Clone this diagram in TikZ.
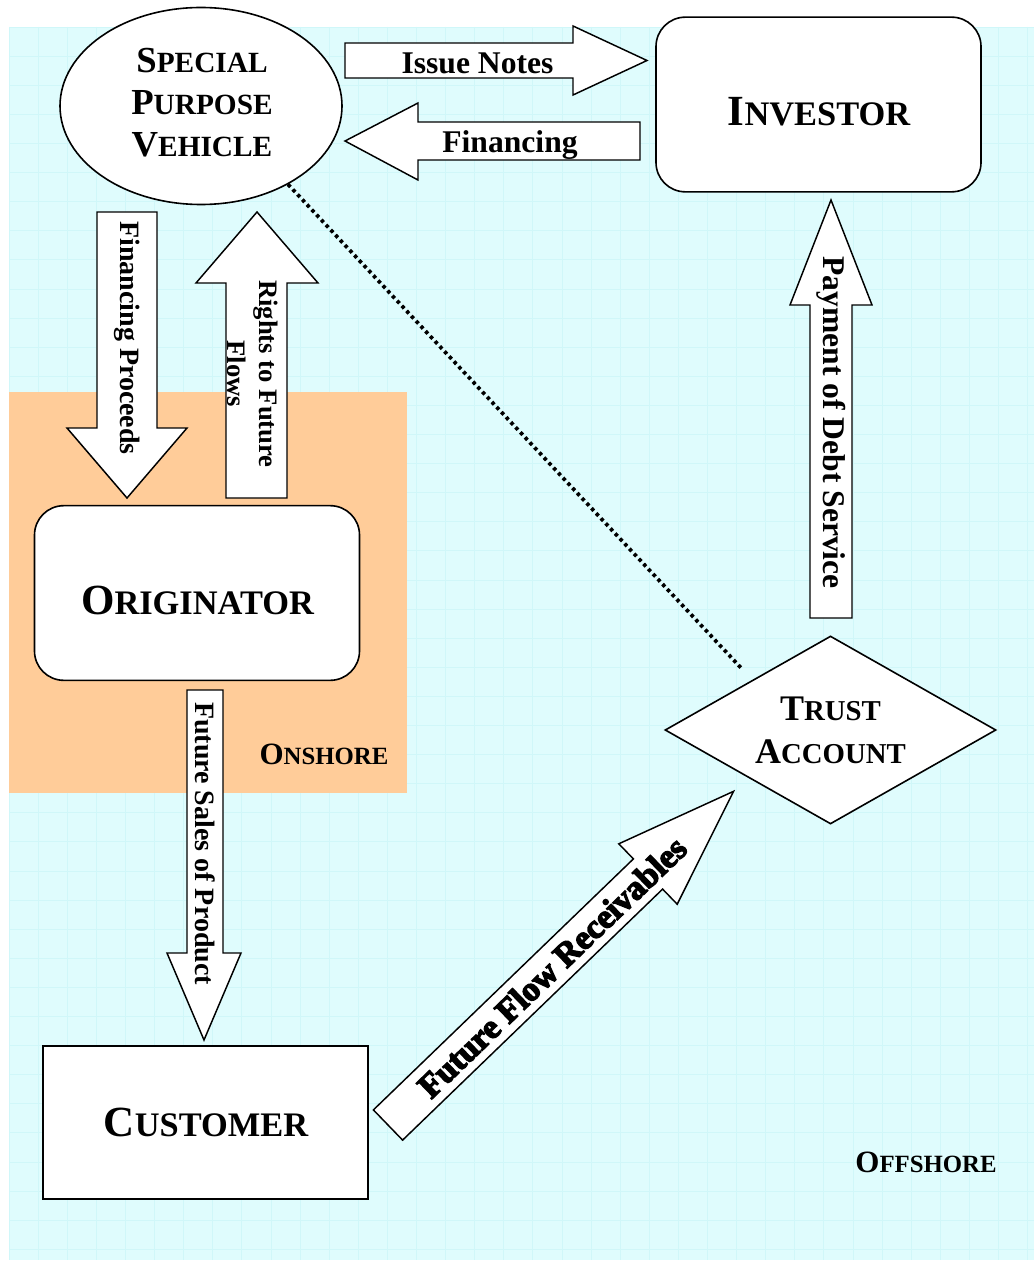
\documentclass[tikz,border=0pt]{standalone}
\usepackage{fontspec}
\usepackage{graphicx}
\setmainfont{Liberation Serif}
\newfontfamily\heavyfont[FakeBold=4]{Liberation Serif}
\usetikzlibrary{shapes.geometric}
\definecolor{bgcyan}{RGB}{223,252,253}
\definecolor{gridcyan}{RGB}{208,247,249}
\definecolor{onshorefill}{RGB}{255,204,153}
\newcommand\smc[1]{\scalebox{0.8}{#1}}
\begin{document}
\begin{tikzpicture}[x=0.75pt,y=-0.75pt,
  shapebox/.style={draw=black, line width=1.2pt, fill=white, inner sep=0pt},
  roundbox/.style={shapebox, rounded corners=22pt, minimum width=243.75pt, minimum height=131pt},
  blockarrow/.style={draw=black, line width=1.1pt, fill=white, line join=miter},
  gridline/.style={draw=gridcyan, line width=0.5pt},
  dotline/.style={line width=2.8pt, dash pattern=on 2.6pt off 2.6pt},
  bigtxt/.style={font=\fontsize{32.25pt}{38pt}\selectfont\bfseries, inner sep=0pt},
  midtxt/.style={font=\fontsize{27.5pt}{31.5pt}\selectfont\bfseries, inner sep=0pt, align=center},
  zonetxt/.style={font=\fontsize{23.25pt}{28pt}\selectfont\bfseries, inner sep=0pt},
  hlbl/.style={font=\fontsize{23.7pt}{28pt}\selectfont\bfseries, inner sep=0pt},
  vlbl/.style={font=\fontsize{21pt}{24pt}\selectfont\bfseries, inner sep=0pt, rotate=-90},
]
\useasboundingbox (0,0) rectangle (1034,1262);
% backgrounds
\fill[white] (0,0) rectangle (1034,1262);
\fill[bgcyan] (9,27) rectangle (1034,1260);
\foreach \i in {0,...,35} \draw[gridline] ({9+29.1*\i},27) -- ({9+29.1*\i},1260);
\foreach \j in {0,...,42} \draw[gridline] (9,{27+29.1*\j}) -- (1034,{27+29.1*\j});
\fill[onshorefill] (9,392) rectangle (407,793);

% main nodes
\node[shapebox, ellipse, minimum width=211.5pt, minimum height=147.75pt] (spv) at (201,106) {};
\node[midtxt] (spvlabel) at (202,103) {S\smc{PECIAL}\\P\smc{URPOSE}\\V\smc{EHICLE}};
\node[roundbox] (investor) at (818.5,104.5) {};
\node[bigtxt] (investorlabel) at (819,112) {I\smc{NVESTOR}};
\node[roundbox] (originator) at (197,593) {};
\node[bigtxt] (originatorlabel) at (197.5,600) {O\smc{RIGINATOR}};
\node[shapebox, minimum width=243.75pt, minimum height=114.75pt] (customer) at (205.5,1122.5) {};
\node[bigtxt] (customerlabel) at (206,1122.5) {C\smc{USTOMER}};
\node[shapebox, diamond, shape aspect=1.76, minimum width=248.25pt, minimum height=141pt, font=\fontsize{27pt}{32.25pt}\selectfont\bfseries, align=center] (trust) at (830.5,730) {T\smc{RUST}\\A\smc{CCOUNT}};

% zone labels
\node[zonetxt] (onshore) at (324,754) {O\smc{NSHORE}};
\node[zonetxt] (offshore) at (926,1162) {O\smc{FFSHORE}};

% dotted link
\coordinate (dotend) at (743,670);
\draw[dotline] (spv.-42) -- (dotend);

% block arrows
\draw[blockarrow] (345,43) -- (573,43) -- (573,26) -- (647,60.5) -- (573,95) -- (573,78) -- (345,78) -- cycle;
\node[hlbl, anchor=base] (issuelbl) at (477.5,74) {Issue Notes};

\draw[blockarrow] (640,122) -- (418,122) -- (418,103) -- (345,141) -- (418,180) -- (418,160) -- (640,160) -- cycle;
\node[hlbl, anchor=base] (finlbl) at (510,153) {Financing};

\draw[blockarrow] (97,212) -- (157,212) -- (157,428) -- (187,428) -- (127,498) -- (67,428) -- (97,428) -- cycle;
\node[vlbl] (proclbl) at (127,338) {Financing Proceeds};

\draw[blockarrow] (226,498) -- (287,498) -- (287,283) -- (318,283) -- (257,212) -- (196,283) -- (226,283) -- cycle;
\node[vlbl, align=center, font=\fontsize{20pt}{24pt}\selectfont\bfseries] (rightslbl) at (253,374) {Rights to Future\\Flows};

\draw[blockarrow] (810,618) -- (852,618) -- (852,305) -- (872,305) -- (831,200) -- (790,305) -- (810,305) -- cycle;
\node[vlbl, font=\fontsize{23.7pt}{28pt}\selectfont\bfseries] (paylbl) at (831,422.5) {Payment of Debt Service};

\draw[blockarrow] (187,690) -- (223,690) -- (223,953) -- (241,953) -- (204,1040) -- (167,953) -- (187,953) -- cycle;
\node[vlbl] (saleslbl) at (205,843.5) {Future Sales of Product};

\draw[blockarrow] (373.4,1109.9) -- (633.4,858.9) -- (618.8,843.8) -- (733.6,791.3) -- (677.2,904.2) -- (662.6,889.1) -- (402.6,1140.1) -- cycle;
\node[inner sep=0pt, rotate=44, font=\fontsize{25.5pt}{30pt}\selectfont\heavyfont\bfseries] (fflbl) at (552,967) {Future Flow Receivables};
\end{tikzpicture}
\end{document}
